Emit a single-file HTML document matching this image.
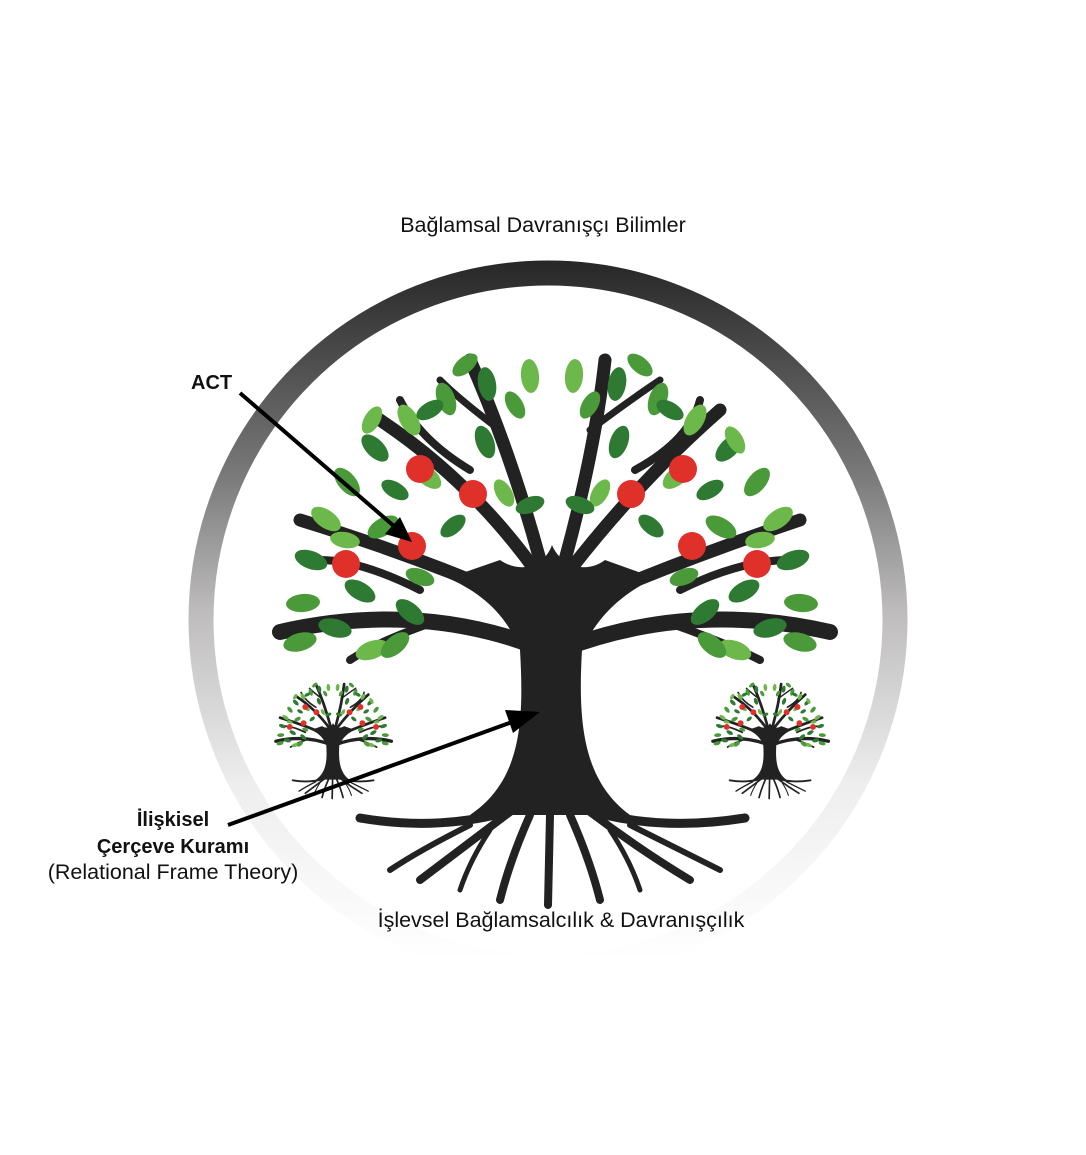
<!DOCTYPE html>
<html><head><meta charset="utf-8"><style>
html,body{margin:0;padding:0;background:#fff;}
svg{display:block}
text{font-family:"Liberation Sans",sans-serif;fill:#111}
</style></head><body>
<svg width="1086" height="1155" viewBox="0 0 1086 1155" xmlns="http://www.w3.org/2000/svg">
<defs>
<linearGradient id="rg" gradientUnits="userSpaceOnUse" x1="0" y1="259" x2="0" y2="960">
<stop offset="0" stop-color="#262626"/><stop offset="0.3" stop-color="#777"/>
<stop offset="0.5" stop-color="#bdbbbb"/><stop offset="0.75" stop-color="#eee"/><stop offset="1" stop-color="#fff"/>
</linearGradient>
<g id="tree">
<g fill="none" stroke="#222" stroke-linecap="round">
<path d="M545 650 Q420 600 280 632" stroke-width="16"/>
<path d="M560 650 Q690 600 830 632" stroke-width="16"/>
<path d="M540 610 Q430 560 300 520" stroke-width="13"/>
<path d="M565 610 Q680 560 800 520" stroke-width="13"/>
<path d="M535 570 Q470 480 380 420" stroke-width="13"/>
<path d="M570 570 Q640 480 720 410" stroke-width="13"/>
<path d="M540 560 Q510 450 470 360" stroke-width="13"/>
<path d="M565 560 Q595 450 605 360" stroke-width="13"/>
<path d="M470 470 Q420 440 400 400" stroke-width="8"/>
<path d="M635 470 Q690 440 700 400" stroke-width="8"/>
<path d="M420 590 Q360 560 320 560" stroke-width="8"/>
<path d="M680 590 Q740 560 790 560" stroke-width="8"/>
<path d="M500 430 Q460 400 440 380" stroke-width="7"/>
<path d="M590 430 Q630 400 660 380" stroke-width="7"/>
<path d="M440 620 Q380 640 350 660" stroke-width="8"/>
<path d="M660 620 Q720 640 760 660" stroke-width="8"/>
<path d="M495 815 Q430 830 360 818" stroke-width="9"/>
<path d="M605 815 Q670 830 745 818" stroke-width="9"/>
<path d="M510 812 Q460 850 420 880" stroke-width="8"/>
<path d="M590 812 Q640 850 690 880" stroke-width="8"/>
<path d="M530 815 Q510 860 500 900" stroke-width="8"/>
<path d="M570 815 Q590 860 600 900" stroke-width="8"/>
<path d="M550 815 L548 905" stroke-width="8"/>
<path d="M470 825 Q420 850 390 870" stroke-width="6"/>
<path d="M630 825 Q680 850 720 870" stroke-width="6"/>
<path d="M490 830 Q470 860 460 890" stroke-width="5"/>
<path d="M610 830 Q630 860 640 890" stroke-width="5"/>
</g>
<path d="M520 650 C524 720 522 780 470 815 L630 815 C582 780 578 720 582 650 C600 610 630 590 655 578 L605 560 C585 575 560 565 552 545 C545 565 522 575 500 560 L448 578 C475 590 505 610 520 650 Z" fill="#222"/>
<g>
<ellipse cx="303" cy="603" rx="17" ry="9" fill="#4a9a3a" transform="rotate(-5 303 603)"/>
<ellipse cx="311" cy="560" rx="17" ry="9" fill="#2f7a32" transform="rotate(20 311 560)"/>
<ellipse cx="326" cy="519" rx="17" ry="9" fill="#6cb84a" transform="rotate(35 326 519)"/>
<ellipse cx="347" cy="482" rx="17" ry="9" fill="#4a9a3a" transform="rotate(50 347 482)"/>
<ellipse cx="375" cy="448" rx="17" ry="9" fill="#2f7a32" transform="rotate(45 375 448)"/>
<ellipse cx="409" cy="420" rx="17" ry="9" fill="#6cb84a" transform="rotate(60 409 420)"/>
<ellipse cx="446" cy="399" rx="17" ry="9" fill="#4a9a3a" transform="rotate(70 446 399)"/>
<ellipse cx="487" cy="384" rx="17" ry="9" fill="#2f7a32" transform="rotate(80 487 384)"/>
<ellipse cx="530" cy="376" rx="17" ry="9" fill="#6cb84a" transform="rotate(85 530 376)"/>
<ellipse cx="801" cy="603" rx="17" ry="9" fill="#4a9a3a" transform="rotate(5 801 603)"/>
<ellipse cx="793" cy="560" rx="17" ry="9" fill="#2f7a32" transform="rotate(-20 793 560)"/>
<ellipse cx="778" cy="519" rx="17" ry="9" fill="#6cb84a" transform="rotate(-35 778 519)"/>
<ellipse cx="757" cy="482" rx="17" ry="9" fill="#4a9a3a" transform="rotate(-50 757 482)"/>
<ellipse cx="729" cy="448" rx="17" ry="9" fill="#2f7a32" transform="rotate(-45 729 448)"/>
<ellipse cx="695" cy="420" rx="17" ry="9" fill="#6cb84a" transform="rotate(-60 695 420)"/>
<ellipse cx="658" cy="399" rx="17" ry="9" fill="#4a9a3a" transform="rotate(-70 658 399)"/>
<ellipse cx="617" cy="384" rx="17" ry="9" fill="#2f7a32" transform="rotate(-80 617 384)"/>
<ellipse cx="574" cy="376" rx="17" ry="9" fill="#6cb84a" transform="rotate(-85 574 376)"/>
<ellipse cx="360" cy="591" rx="17" ry="9" fill="#2f7a32" transform="rotate(30 360 591)"/>
<ellipse cx="383" cy="527" rx="17" ry="9" fill="#4a9a3a" transform="rotate(-30 383 527)"/>
<ellipse cx="427" cy="476" rx="17" ry="9" fill="#6cb84a" transform="rotate(40 427 476)"/>
<ellipse cx="485" cy="442" rx="17" ry="9" fill="#2f7a32" transform="rotate(70 485 442)"/>
<ellipse cx="744" cy="591" rx="17" ry="9" fill="#2f7a32" transform="rotate(-30 744 591)"/>
<ellipse cx="721" cy="527" rx="17" ry="9" fill="#4a9a3a" transform="rotate(30 721 527)"/>
<ellipse cx="677" cy="476" rx="17" ry="9" fill="#6cb84a" transform="rotate(-40 677 476)"/>
<ellipse cx="619" cy="442" rx="17" ry="9" fill="#2f7a32" transform="rotate(-70 619 442)"/>
<ellipse cx="420" cy="577" rx="15" ry="8" fill="#4a9a3a" transform="rotate(20 420 577)"/>
<ellipse cx="453" cy="526" rx="15" ry="8" fill="#2f7a32" transform="rotate(-40 453 526)"/>
<ellipse cx="504" cy="493" rx="15" ry="8" fill="#6cb84a" transform="rotate(60 504 493)"/>
<ellipse cx="684" cy="577" rx="15" ry="8" fill="#4a9a3a" transform="rotate(-20 684 577)"/>
<ellipse cx="651" cy="526" rx="15" ry="8" fill="#2f7a32" transform="rotate(40 651 526)"/>
<ellipse cx="600" cy="493" rx="15" ry="8" fill="#6cb84a" transform="rotate(-60 600 493)"/>
<ellipse cx="300" cy="642" rx="17" ry="9" fill="#4a9a3a" transform="rotate(-15 300 642)"/>
<ellipse cx="335" cy="628" rx="17" ry="9" fill="#2f7a32" transform="rotate(15 335 628)"/>
<ellipse cx="372" cy="650" rx="17" ry="9" fill="#6cb84a" transform="rotate(-20 372 650)"/>
<ellipse cx="410" cy="612" rx="17" ry="9" fill="#2f7a32" transform="rotate(40 410 612)"/>
<ellipse cx="395" cy="645" rx="17" ry="9" fill="#4a9a3a" transform="rotate(-40 395 645)"/>
<ellipse cx="800" cy="642" rx="17" ry="9" fill="#4a9a3a" transform="rotate(15 800 642)"/>
<ellipse cx="770" cy="628" rx="17" ry="9" fill="#2f7a32" transform="rotate(-15 770 628)"/>
<ellipse cx="735" cy="650" rx="17" ry="9" fill="#6cb84a" transform="rotate(20 735 650)"/>
<ellipse cx="705" cy="612" rx="17" ry="9" fill="#2f7a32" transform="rotate(-40 705 612)"/>
<ellipse cx="712" cy="645" rx="17" ry="9" fill="#4a9a3a" transform="rotate(40 712 645)"/>
<ellipse cx="430" cy="410" rx="15" ry="8" fill="#2f7a32" transform="rotate(-30 430 410)"/>
<ellipse cx="670" cy="410" rx="15" ry="8" fill="#2f7a32" transform="rotate(30 670 410)"/>
<ellipse cx="515" cy="405" rx="15" ry="8" fill="#4a9a3a" transform="rotate(60 515 405)"/>
<ellipse cx="590" cy="405" rx="15" ry="8" fill="#4a9a3a" transform="rotate(-60 590 405)"/>
<ellipse cx="530" cy="505" rx="15" ry="8" fill="#2f7a32" transform="rotate(-20 530 505)"/>
<ellipse cx="580" cy="505" rx="15" ry="8" fill="#2f7a32" transform="rotate(20 580 505)"/>
<ellipse cx="345" cy="540" rx="15" ry="8" fill="#6cb84a" transform="rotate(10 345 540)"/>
<ellipse cx="760" cy="540" rx="15" ry="8" fill="#6cb84a" transform="rotate(-10 760 540)"/>
<ellipse cx="395" cy="490" rx="15" ry="8" fill="#2f7a32" transform="rotate(30 395 490)"/>
<ellipse cx="710" cy="490" rx="15" ry="8" fill="#2f7a32" transform="rotate(-30 710 490)"/>
<ellipse cx="465" cy="365" rx="15" ry="8" fill="#4a9a3a" transform="rotate(-40 465 365)"/>
<ellipse cx="640" cy="365" rx="15" ry="8" fill="#4a9a3a" transform="rotate(40 640 365)"/>
<ellipse cx="372" cy="420" rx="15" ry="8" fill="#6cb84a" transform="rotate(-60 372 420)"/>
<ellipse cx="735" cy="440" rx="15" ry="8" fill="#6cb84a" transform="rotate(60 735 440)"/>
</g>
<g fill="#e0302a">
<circle cx="420" cy="469" r="14"/><circle cx="473" cy="494" r="14"/><circle cx="412" cy="546" r="14"/><circle cx="346" cy="564" r="14"/>
<circle cx="683" cy="469" r="14"/><circle cx="631" cy="494" r="14"/><circle cx="692" cy="546" r="14"/><circle cx="757" cy="564" r="14"/>
</g>
</g>
</defs>
<circle cx="548" cy="620" r="347" fill="none" stroke="url(#rg)" stroke-width="25"/>
<use href="#tree"/>
<use href="#tree" transform="translate(333 682) scale(0.21) translate(-552 -350)"/>
<use href="#tree" transform="translate(770 682) scale(0.21) translate(-552 -350)"/>
<g stroke="#000" stroke-width="4" fill="#000">
<line x1="240" y1="393" x2="395" y2="527"/>
<polygon points="412,542 385,534 400,517" stroke="none"/>
<line x1="228" y1="825" x2="515" y2="721"/>
<polygon points="540,712 513,733 505,710" stroke="none"/>
</g>
<text x="543" y="232" font-size="21.5" text-anchor="middle">Bağlamsal Davranışçı Bilimler</text>
<text x="191" y="389" font-size="20" font-weight="bold">ACT</text>
<text x="173" y="826" font-size="20" font-weight="bold" text-anchor="middle">İlişkisel</text>
<text x="173" y="853" font-size="20" font-weight="bold" text-anchor="middle">Çerçeve Kuramı</text>
<text x="173" y="879" font-size="21.5" text-anchor="middle">(Relational Frame Theory)</text>
<text x="561" y="927" font-size="21.5" text-anchor="middle">İşlevsel Bağlamsalcılık &amp; Davranışçılık</text>
</svg>
</body></html>
